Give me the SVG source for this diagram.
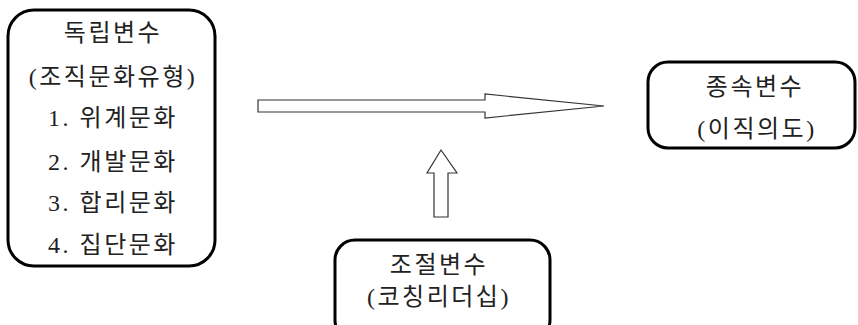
<svg xmlns="http://www.w3.org/2000/svg" width="858" height="325" viewBox="0 0 858 325">
<style>
.box{fill:#fff;stroke:#000;stroke-width:3}
.arr{fill:#fff;stroke:#333;stroke-width:1.2}
text{font-family:"Liberation Serif","Noto Sans CJK KR",serif;font-size:24px;letter-spacing:2.5px;fill:#222;text-anchor:middle}
</style>
<rect width="858" height="325" fill="#fff"/>
<g id="connectors">
<polygon class="arr" points="258,100 485,100 485,94 604,106 485,118 485,112 258,112"/>
<polygon class="arr" points="441,150 457,173 448,173 448,217 434,217 434,173 427,173"/>
</g>
<g id="independent">
<rect class="box" x="8" y="10" width="207" height="256" rx="26"/>
<text x="113" y="41">독립변수</text>
<text x="113" y="85">(조직문화유형)</text>
<text x="113" y="126">1.  위계문화</text>
<text x="113" y="170">2.  개발문화</text>
<text x="113" y="211">3.  합리문화</text>
<text x="113" y="253">4.  집단문화</text>
</g>
<g id="dependent">
<rect class="box" x="648" y="62" width="207" height="86" rx="20"/>
<text x="755" y="95">종속변수</text>
<text x="757" y="137">(이직의도)</text>
</g>
<g id="moderator">
<rect class="box" x="335" y="240" width="215" height="100" rx="20"/>
<text x="439" y="273">조절변수</text>
<text x="439" y="305">(코칭리더십)</text>
</g>
</svg>
